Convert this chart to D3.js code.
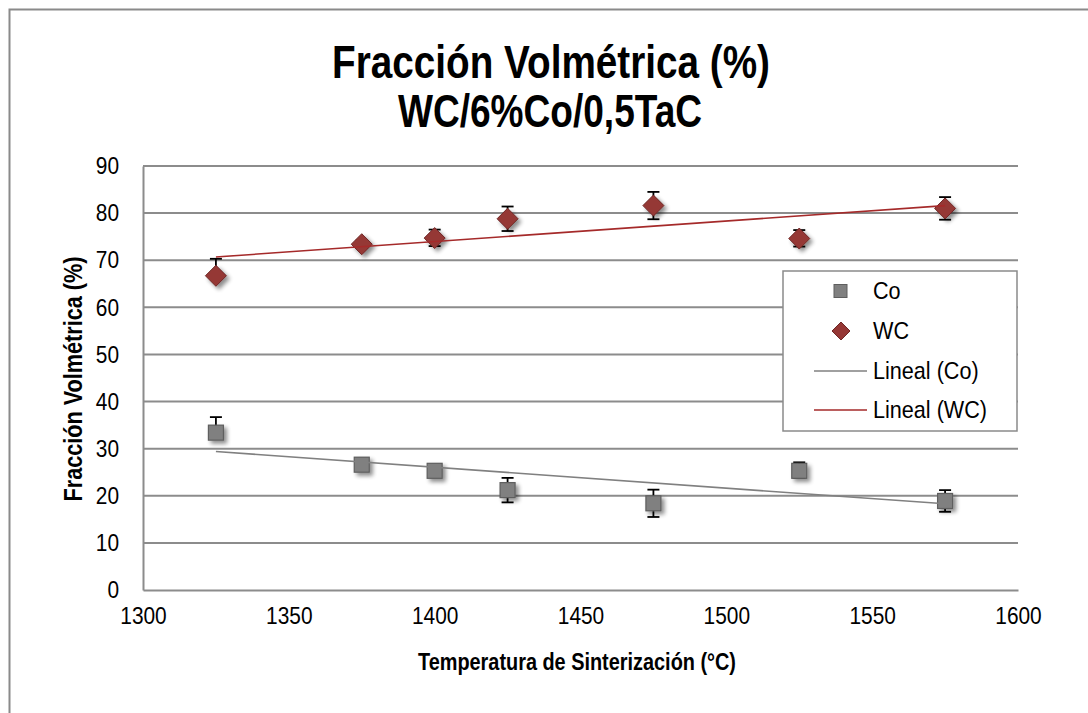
<!DOCTYPE html>
<html><head><meta charset="utf-8">
<script src="https://cdn.jsdelivr.net/npm/d3@7/dist/d3.min.js"></script>
<style>
html,body{margin:0;padding:0;background:#fff;}
svg{display:block;}
text{font-family:"Liberation Sans Narrow","Arial Narrow","Liberation Sans",Arial,sans-serif;}
</style></head>
<body>
<svg id="chart" width="1088" height="713"></svg>
<script>
const temps = [1325, 1375, 1400, 1425, 1475, 1525, 1575];
const coValues = [33.4, 26.6, 25.3, 21.2, 18.4, 25.3, 18.9];
const coErrUp = [3.3, 0.8, 0.8, 2.6, 2.9, 1.8, 2.3];
const coErrDown = [0, 0.8, 0.8, 2.6, 2.9, 1.5, 2.3];
const wcValues = [66.7, 73.4, 74.7, 78.8, 81.6, 74.6, 81.0];
const wcErrUp = [3.6, 0.8, 1.8, 2.6, 2.9, 1.8, 2.4];
const wcErrDown = [0, 0.8, 1.7, 2.6, 2.9, 1.7, 2.4];
const xTicks = [1300, 1350, 1400, 1450, 1500, 1550, 1600];
const yTicks = [0, 10, 20, 30, 40, 50, 60, 70, 80, 90];
const legendLabels = ["Co", "WC", "Lineal (Co)", "Lineal (WC)"];

(function () {
const svg = d3.select("#chart");
const W = 1088, H = 713;
const pLeft = 143, pRight = 1018, pTop = 166, pBottom = 590;
const x = d3.scaleLinear().domain([1300, 1600]).range([pLeft, pRight]);
const y = d3.scaleLinear().domain([0, 90]).range([pBottom, pTop]);

const grey = "#808080", red = "#953735";
const narrow = 0.87;

// shadow filter
const defs = svg.append("defs");
const f = defs.append("filter").attr("id", "sh").attr("x", "-60%").attr("y", "-60%").attr("width", "250%").attr("height", "250%");
f.append("feGaussianBlur").attr("in", "SourceAlpha").attr("stdDeviation", 2.2).attr("result", "b");
f.append("feOffset").attr("in", "b").attr("dx", 3).attr("dy", 3).attr("result", "o");
f.append("feComponentTransfer").attr("in", "o").attr("result", "o2")
  .append("feFuncA").attr("type", "linear").attr("slope", 0.45);
const m = f.append("feMerge");
m.append("feMergeNode").attr("in", "o2");
m.append("feMergeNode").attr("in", "SourceGraphic");

// outer chart border
svg.append("path").attr("d", `M9.5,${H} V9.5 H${W}`).attr("fill", "none").attr("stroke", "#8a8a8a").attr("stroke-width", 2);

// title
const title = svg.append("g").attr("font-weight", "bold").attr("fill", "#000");
title.append("text").attr("x", 551).attr("y", 78).attr("text-anchor", "middle")
  .attr("font-size", 46).attr("textLength", 438).attr("lengthAdjust", "spacingAndGlyphs")
  .text("Fracción Volmétrica (%)");
title.append("text").attr("x", 550).attr("y", 127).attr("text-anchor", "middle")
  .attr("font-size", 46).attr("textLength", 304).attr("lengthAdjust", "spacingAndGlyphs")
  .text("WC/6%Co/0,5TaC");

// gridlines
svg.append("g").selectAll("line").data(yTicks.filter(d => d > 0)).join("line")
  .attr("x1", pLeft).attr("x2", pRight).attr("y1", d => y(d)).attr("y2", d => y(d))
  .attr("stroke", "#8c8c8c").attr("stroke-width", 2);

// axes
const xAxis = svg.append("g").attr("transform", `translate(0,${pBottom})`)
  .call(d3.axisBottom(x).tickValues(xTicks).tickSize(0).tickPadding(17).tickFormat(d3.format("d")));
const yAxis = svg.append("g").attr("transform", `translate(${pLeft},0)`)
  .call(d3.axisLeft(y).tickValues(yTicks).tickSize(0).tickPadding(23).tickFormat(d3.format("d")));
[xAxis, yAxis].forEach(a => {
  a.select(".domain").attr("stroke", "#8c8c8c").attr("stroke-width", 2);
  a.selectAll("text").attr("font-size", 24).attr("fill", "#000")
    .attr("font-family", '"Liberation Sans Narrow","Arial Narrow","Liberation Sans",Arial,sans-serif')
    .attr("transform", `scale(${narrow},1)`);
});
yAxis.selectAll("text").attr("x", -24 / narrow);

// axis titles
svg.append("text").attr("x", 577).attr("y", 670).attr("text-anchor", "middle")
  .attr("font-size", 23).attr("font-weight", "bold")
  .attr("textLength", 318).attr("lengthAdjust", "spacingAndGlyphs")
  .text("Temperatura de Sinterización (°C)");
svg.append("text").attr("transform", "translate(82,379) rotate(-90)").attr("text-anchor", "middle")
  .attr("font-size", 25).attr("font-weight", "bold")
  .attr("textLength", 245).attr("lengthAdjust", "spacingAndGlyphs")
  .text("Fracción Volmétrica (%)");

// trendlines (least squares)
function fit(xs, ys) {
  const mx = d3.mean(xs), my = d3.mean(ys);
  let sxy = 0, sxx = 0;
  xs.forEach((v, i) => { sxy += (v - mx) * (ys[i] - my); sxx += (v - mx) ** 2; });
  const s = sxy / sxx; return t => my + s * (t - mx);
}
const tr = [d3.min(temps), d3.max(temps)];
const fCo = fit(temps, coValues), fWc = fit(temps, wcValues);

// error bars
function errBars(vals, up, down) {
  const g = svg.append("g").attr("stroke", "#000").attr("stroke-width", 1.8);
  temps.forEach((t, i) => {
    const cx = x(t), y1 = y(vals[i] + up[i]), y0 = y(vals[i] - down[i]);
    g.append("line").attr("x1", cx).attr("x2", cx).attr("y1", y1).attr("y2", y0);
    if (up[i] > 0) g.append("line").attr("x1", cx - 6).attr("x2", cx + 6).attr("y1", y1).attr("y2", y1);
    if (down[i] > 0) g.append("line").attr("x1", cx - 6).attr("x2", cx + 6).attr("y1", y0).attr("y2", y0);
  });
}
errBars(coValues, coErrUp, coErrDown);
errBars(wcValues, wcErrUp, wcErrDown);

// markers
svg.append("g").selectAll("rect").data(temps).join("rect")
  .attr("x", (d) => x(d) - 7.5).attr("y", (d, i) => y(coValues[i]) - 7.5)
  .attr("width", 15).attr("height", 15)
  .attr("fill", grey).attr("stroke", "#5e5e5e").attr("stroke-width", 1.2)
  .attr("filter", "url(#sh)");
svg.append("g").selectAll("path").data(temps).join("path")
  .attr("d", (d, i) => { const cx = x(d), cy = y(wcValues[i]), r = 10.5;
    return `M${cx},${cy - r}L${cx + r},${cy}L${cx},${cy + r}L${cx - r},${cy}Z`; })
  .attr("fill", red).attr("stroke", "#6e2725").attr("stroke-width", 1)
  .attr("filter", "url(#sh)");

svg.append("line").attr("x1", x(tr[0])).attr("x2", x(tr[1])).attr("y1", y(fCo(tr[0]))).attr("y2", y(fCo(tr[1])))
  .attr("stroke", grey).attr("stroke-width", 1.6);
svg.append("line").attr("x1", x(tr[0])).attr("x2", x(tr[1])).attr("y1", y(fWc(tr[0]))).attr("y2", y(fWc(tr[1])))
  .attr("stroke", "#a52a2a").attr("stroke-width", 1.6);

// legend
const lg = svg.append("g");
lg.append("rect").attr("x", 783).attr("y", 271).attr("width", 234).attr("height", 160)
  .attr("fill", "#fff").attr("stroke", "#8a8a8a").attr("stroke-width", 1.5);
const rowY = [291, 331, 371, 410];
lg.append("rect").attr("x", 834).attr("y", rowY[0] - 6.5).attr("width", 13).attr("height", 13)
  .attr("fill", grey).attr("stroke", "#5e5e5e").attr("stroke-width", 1);
lg.append("path").attr("d", `M841,${rowY[1] - 9}L850,${rowY[1]}L841,${rowY[1] + 9}L832,${rowY[1]}Z`)
  .attr("fill", red).attr("stroke", "#6e2725").attr("stroke-width", 1);
lg.append("line").attr("x1", 814).attr("x2", 867).attr("y1", rowY[2]).attr("y2", rowY[2]).attr("stroke", grey).attr("stroke-width", 1.6);
lg.append("line").attr("x1", 814).attr("x2", 867).attr("y1", rowY[3]).attr("y2", rowY[3]).attr("stroke", "#a52a2a").attr("stroke-width", 1.6);
lg.selectAll("text.l").data(legendLabels).join("text").attr("class", "l")
  .attr("transform", (d, i) => `translate(873,${rowY[i] + 8}) scale(0.9,1)`)
  .attr("font-size", 24).attr("fill", "#000").text(d => d);
})();
</script>
</body></html>
